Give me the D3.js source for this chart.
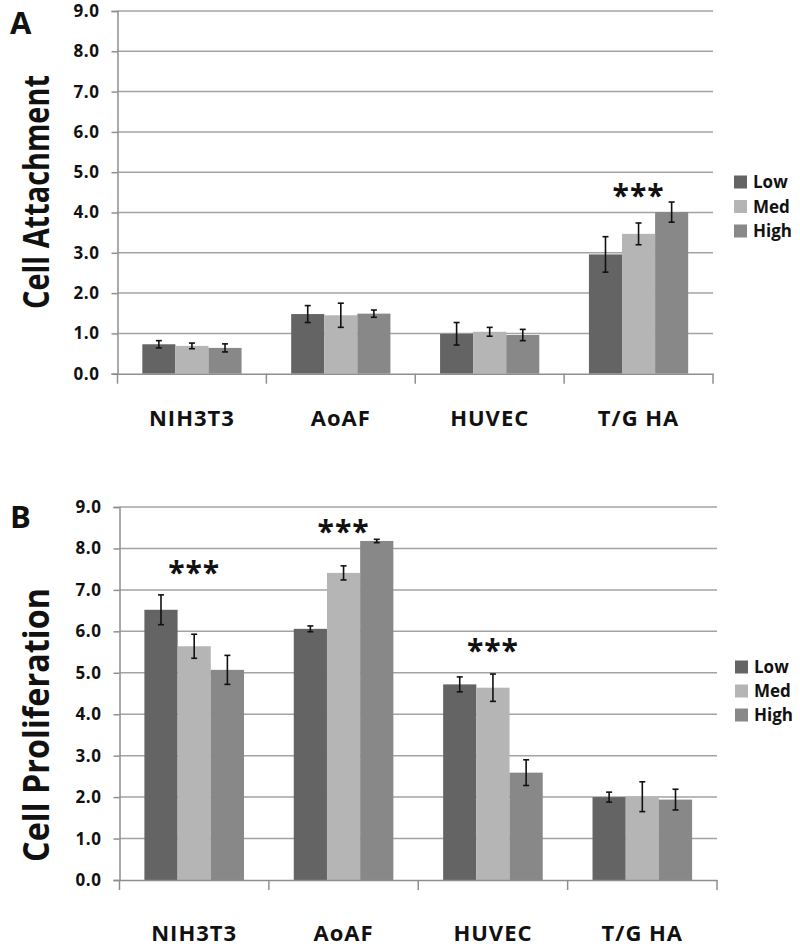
<!DOCTYPE html>
<html><head><meta charset="utf-8">
<script src="https://cdn.jsdelivr.net/npm/d3@7"></script>
<style>
body{margin:0;background:#fff;}
svg{display:block;font-family:"Open Sans",Lato,sans-serif;}
</style></head>
<body>
<svg id="chart" width="800" height="951"></svg>
<script>
const categories = ["NIH3T3","AoAF","HUVEC","T/G HA"];
const series = ["Low","Med","High"];
const colors = ["#646464","#b5b5b5","#888888"];
const yTicks = [0,1,2,3,4,5,6,7,8,9];

// Panel A: Cell Attachment
const attachLow  = [0.73, 1.48, 0.99, 2.96];
const attachMed  = [0.69, 1.45, 1.04, 3.47];
const attachHigh = [0.64, 1.49, 0.96, 4.01];
const attachLowErr  = [0.09, 0.21, 0.28, 0.44];
const attachMedErr  = [0.07, 0.30, 0.11, 0.27];
const attachHighErr = [0.10, 0.09, 0.14, 0.25];
const attachStars = [null, null, null, 4.56];

// Panel B: Cell Proliferation
const prolifLow  = [6.52, 6.06, 4.72, 2.00];
const prolifMed  = [5.64, 7.41, 4.64, 2.01];
const prolifHigh = [5.07, 8.18, 2.59, 1.94];
const prolifLowErr  = [0.36, 0.07, 0.18, 0.12];
const prolifMedErr  = [0.29, 0.17, 0.33, 0.36];
const prolifHighErr = [0.35, 0.04, 0.31, 0.25];
const prolifStars = [7.56, 8.53, 5.68, null];

const svg = d3.select("#chart");

function panel(opt){
  const g = svg.append("g");
  const x = d3.scaleBand().domain(categories).range([opt.x0, opt.x1]).padding(0);
  const xs = d3.scaleBand().domain(series).range([0, x.bandwidth()]).paddingInner(0).paddingOuter(0.75);
  const y = d3.scaleLinear().domain([0,9]).range([opt.y0, opt.y9]);

  // gridlines
  g.append("g").selectAll("line").data(yTicks.slice(1)).join("line")
    .attr("x1", opt.x0).attr("x2", opt.x1)
    .attr("y1", d=>y(d)).attr("y2", d=>y(d))
    .attr("stroke","#a3a3a3").attr("stroke-width",1.5);

  // y axis
  const ya = g.append("g").attr("transform",`translate(${opt.x0},0)`)
    .call(d3.axisLeft(y).tickValues(yTicks).tickFormat(d3.format(".1f")).tickSize(6).tickPadding(12));
  ya.select(".domain").attr("stroke","#8f8f8f").attr("stroke-width",1.5);
  ya.selectAll(".tick line").attr("stroke","#8f8f8f").attr("stroke-width",1.5);
  ya.selectAll(".tick text").attr("font-family","'Open Sans',sans-serif").attr("font-weight","bold")
    .attr("font-size",17).attr("fill","#111").attr("letter-spacing",0.6);

  // bars
  const vals = [opt.low, opt.med, opt.high];
  const errs = [opt.lowErr, opt.medErr, opt.highErr];
  const rows = [];
  categories.forEach((c,i)=>series.forEach((s,j)=>rows.push({c, s, j, v: vals[j][i], e: errs[j][i]})));
  g.append("g").selectAll("rect").data(rows).join("rect")
    .attr("x", d=>x(d.c)+xs(d.s)).attr("width", xs.bandwidth())
    .attr("y", d=>y(d.v)).attr("height", d=>y(0)-y(d.v))
    .attr("fill", d=>colors[d.j]);

  // x axis
  const xa = g.append("g").attr("transform",`translate(0,${opt.y0})`)
    .call(d3.axisBottom(x).tickSize(0).tickFormat(""));
  xa.select(".domain").attr("stroke","#8f8f8f").attr("stroke-width",1.5);
  xa.selectAll(".tick").remove();
  const bounds = categories.map(c=>x(c)).concat([opt.x1]);
  g.append("g").selectAll("line").data(bounds).join("line")
    .attr("x1",d=>d).attr("x2",d=>d).attr("y1",opt.y0).attr("y2",opt.y0+10)
    .attr("stroke","#8f8f8f").attr("stroke-width",1.5);
  g.append("g").selectAll("text").data(categories).join("text")
    .attr("x", d=>x(d)+x.bandwidth()/2).attr("y", opt.labelY)
    .attr("text-anchor","middle").attr("font-weight","bold").attr("font-size",22)
    .attr("letter-spacing",1).attr("fill","#111").text(d=>d);

  // error bars
  const eb = g.append("g").attr("stroke","#111").attr("stroke-width",1.6);
  rows.forEach(d=>{
    const cx = x(d.c)+xs(d.s)+xs.bandwidth()/2;
    eb.append("line").attr("x1",cx).attr("x2",cx).attr("y1",y(d.v+d.e)).attr("y2",y(d.v-d.e));
    eb.append("line").attr("x1",cx-3).attr("x2",cx+3).attr("y1",y(d.v+d.e)).attr("y2",y(d.v+d.e));
    eb.append("line").attr("x1",cx-3).attr("x2",cx+3).attr("y1",y(d.v-d.e)).attr("y2",y(d.v-d.e));
  });

  // significance stars
  g.append("g").selectAll("text").data(categories.filter((c,i)=>opt.stars[i]!=null)).join("text")
    .attr("x", d=>x(d)+x.bandwidth()/2)
    .attr("y", d=>y(opt.stars[categories.indexOf(d)]))
    .attr("dy", 16).attr("text-anchor","middle").attr("font-weight","bold")
    .attr("font-size",30).attr("letter-spacing",1).attr("fill","#111").text("***");

  // y title
  g.append("text").attr("transform",`translate(49,${opt.titleY}) rotate(-90)`)
    .attr("text-anchor","middle").attr("font-weight","bold").attr("font-size",35)
    .attr("textLength",opt.titleLen).attr("lengthAdjust","spacingAndGlyphs")
    .attr("fill","#111").text(opt.title);

  // panel letter
  g.append("text").attr("x",10).attr("y",opt.letterY).attr("font-weight","bold")
    .attr("font-size",31).attr("fill","#111").text(opt.letter);

  // legend
  const lg = g.append("g");
  series.forEach((s,j)=>{
    const ly = opt.legY + j*opt.legStep;
    lg.append("rect").attr("x",opt.legX).attr("y",ly-6.5).attr("width",13).attr("height",13).attr("fill",colors[j]);
    lg.append("text").attr("x",opt.legX+19).attr("y",ly).attr("dy","0.36em")
      .attr("font-weight","bold").attr("font-size",17).attr("fill","#111").text(s);
  });
}

panel({x0:117.5, x1:713, y0:373.7, y9:11, labelY:426,
  low:attachLow, med:attachMed, high:attachHigh,
  lowErr:attachLowErr, medErr:attachMedErr, highErr:attachHighErr,
  stars:attachStars, title:"Cell Attachment", titleY:192, titleLen:234,
  letter:"A", letterY:34, legX:734, legY:182, legStep:24.5});

panel({x0:119.5, x1:717, y0:880, y9:507, labelY:941,
  low:prolifLow, med:prolifMed, high:prolifHigh,
  lowErr:prolifLowErr, medErr:prolifMedErr, highErr:prolifHighErr,
  stars:prolifStars, title:"Cell Proliferation", titleY:725, titleLen:274,
  letter:"B", letterY:528, legX:735, legY:667, legStep:24});
</script>
</body></html>
